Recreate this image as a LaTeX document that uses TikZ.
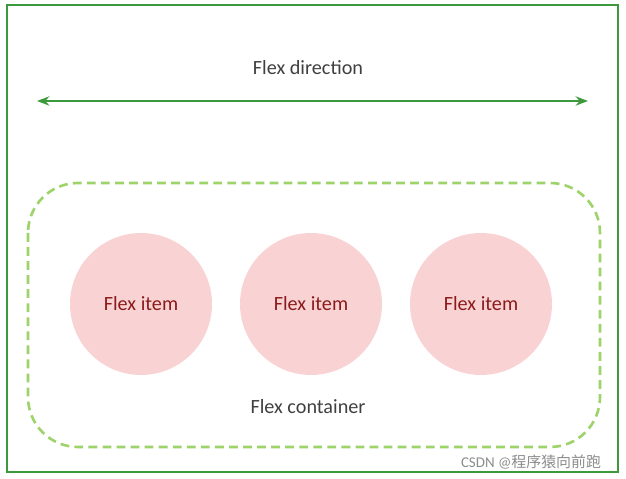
\documentclass[tikz,border=0pt]{standalone}
\usepackage{fontspec}
\setmainfont{Carlito}
\newfontfamily\cjk{Noto Sans CJK SC}
\usetikzlibrary{arrows.meta}
\definecolor{boxgreen}{HTML}{3C9A3C}
\definecolor{dashgreen}{HTML}{9ED36A}
\definecolor{itempink}{HTML}{F9D3D4}
\definecolor{itemred}{HTML}{8B1A1A}
\tikzset{
  item/.style={shape=circle,fill=itempink,minimum size=2.84cm,text=itemred,font=\fontsize{11.5}{13}\selectfont},
  label/.style={text=black!75,font=\fontsize{11.5}{13}\selectfont}
}
\begin{document}
\begin{tikzpicture}[x=0.02cm,y=-0.02cm]
    \useasboundingbox (0,0) rectangle (626,479);
    % outer box
    \draw[boxgreen,line width=1.3pt] (7,5) rectangle (618,472);
    % direction
    \node[label] (dir) at (308,68) {Flex direction};
    \coordinate (l) at (37,101);
    \coordinate (r) at (588,101);
    \draw[boxgreen,line width=1.6pt,{Stealth[length=7pt]}-{Stealth[length=7pt]}] (l) -- (r);
    % container
    \draw[dashgreen,line width=1.5pt,dash pattern=on 5pt off 3pt,rounded corners=1cm] (28,183) rectangle (600,447);
    \node[label] (cont) at (308,407) {Flex container};
    % items
    \node[item] (i1) at (141,304) {Flex item};
    \node[item] (i2) at (311,304) {Flex item};
    \node[item] (i3) at (481,304) {Flex item};
    % mark
    \node[text=black!45,font=\fontsize{8.5}{10}\selectfont] (mark) at (531,462) {CSDN @{\cjk 程序猿向前跑}};
\end{tikzpicture}
\end{document}
